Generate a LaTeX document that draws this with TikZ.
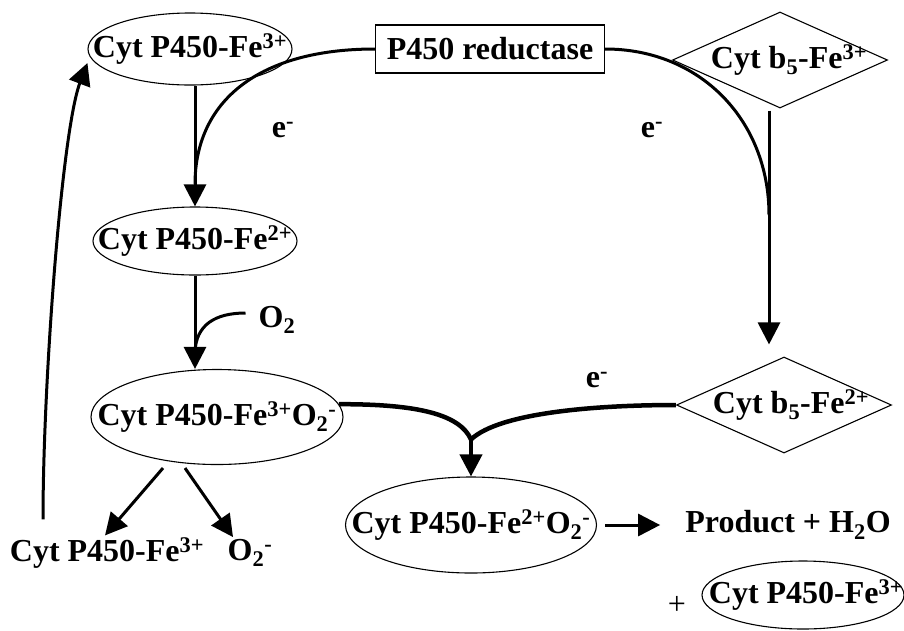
\documentclass[tikz,border=0pt]{standalone}
\usepackage{fontspec}
\setmainfont{Liberation Serif}
\usetikzlibrary{shapes.geometric,arrows.meta,calc}
\begin{document}
\begin{tikzpicture}[x=1pt,y=-1pt,
 every node/.style={font=\fontsize{32}{38}\selectfont\bfseries},
 ell/.style={ellipse,draw,line width=1.1pt,inner sep=0pt},
 dia/.style={diamond,draw,line width=1.1pt,inner sep=0pt,minimum width=215pt,minimum height=96pt},
 rbox/.style={rectangle,draw,line width=1.4pt,minimum width=229pt,minimum height=48pt,inner sep=0pt},
 lbl/.style={inner sep=1pt},
 arr/.style={line width=3pt,-{Triangle[length=22pt,width=22pt]}},
 ln/.style={line width=3pt},
 thk/.style={line width=4.5pt}]
\useasboundingbox (0,0) rectangle (904,630);
\node[ell,minimum width=204pt,minimum height=72pt] (e1) at (190,49) {\makebox[0pt]{Cyt P450-Fe\textsuperscript{3+}}};
\node[rbox] (red) at (490,49) {P450 reductase};
\node[dia] (b5a) at (780,60) {\makebox[0pt]{\hspace{18pt}Cyt b\textsubscript{5}-Fe\textsuperscript{3+}}};
\node[ell,minimum width=204pt,minimum height=68pt] (e2) at (195,241) {\makebox[0pt]{Cyt P450-Fe\textsuperscript{2+}}};
\node[ell,minimum width=252pt,minimum height=95pt] (e3) at (217,417) {\makebox[0pt]{Cyt P450-Fe\textsuperscript{3+}O\textsubscript{2}\textsuperscript{-}}};
\node[dia] (b5b) at (784,405) {\makebox[0pt]{\hspace{14pt}Cyt b\textsubscript{5}-Fe\textsuperscript{2+}}};
\node[ell,minimum width=251pt,minimum height=96pt] (e4) at (471,525) {\makebox[0pt]{Cyt P450-Fe\textsuperscript{2+}O\textsubscript{2}\textsuperscript{-}}};
\node[ell,minimum width=202pt,minimum height=68pt] (e5) at (803,595) {\makebox[0pt]{\hspace{6pt}Cyt P450-Fe\textsuperscript{3+}}};
\node[lbl] (plus) at (677,605) {\mdseries +};
\node[lbl] (prod) at (788,525) {Product + H\textsubscript{2}O};
\node[lbl] (f3) at (107,553) {Cyt P450-Fe\textsuperscript{3+}};
\node[lbl] (o2m) at (250,553) {O\textsubscript{2}\textsuperscript{-}};
\node[lbl] (o2) at (277,320) {O\textsubscript{2}};
\node[lbl] (el1) at (283,130) {e\textsuperscript{-}};
\node[lbl] (el2) at (652,130) {e\textsuperscript{-}};
\node[lbl] (el3) at (597,380) {e\textsuperscript{-}};
% connectors
\draw[arr] (e2.north |- e1.south) -- (e2.north);
\draw[ln] (red.west) .. controls (260,49) and (195,100) .. ($(e2.north)+(0,-22)$);
\draw[ln] (red.east) .. controls (700,49) and (769,120) .. (769,215);
\draw[arr] ($(b5a.south)+(-11,2)$) -- ($(b5b.north)+(-15,-12)$);
\draw[arr] (e2.south) -- (e2.south |- e3.north);
\draw[ln] ($(o2.west)+(-12,-7)$) .. controls (215,313) and (196,325) .. (195,352);
\coordinate (J) at ($(e4.north)+(0,-37)$);
\draw[thk] (b5b.west) .. controls (600,405) and (500,412) .. (J);
\draw[thk] (e3.6) .. controls (420,404) and (460,415) .. (J);
\draw[arr,line width=4pt] (J) -- (e4.north);
\draw[arr] ($(e3.south)+(-54,3)$) -- ($(f3.north)+(-2,-1)$);
\draw[arr] ($(e3.south)+(-32,3)$) -- ($(o2m.north)+(-17,-1)$);
\draw[arr] ($(f3.north)+(-64,-17)$) .. controls (43,380) and (62,130) .. ($(e1.west)+(0,14)$);
\draw[arr] ($(e4.east)+(8,0)$) -- ($(prod.west)+(-24,0)$);
\end{tikzpicture}
\end{document}
